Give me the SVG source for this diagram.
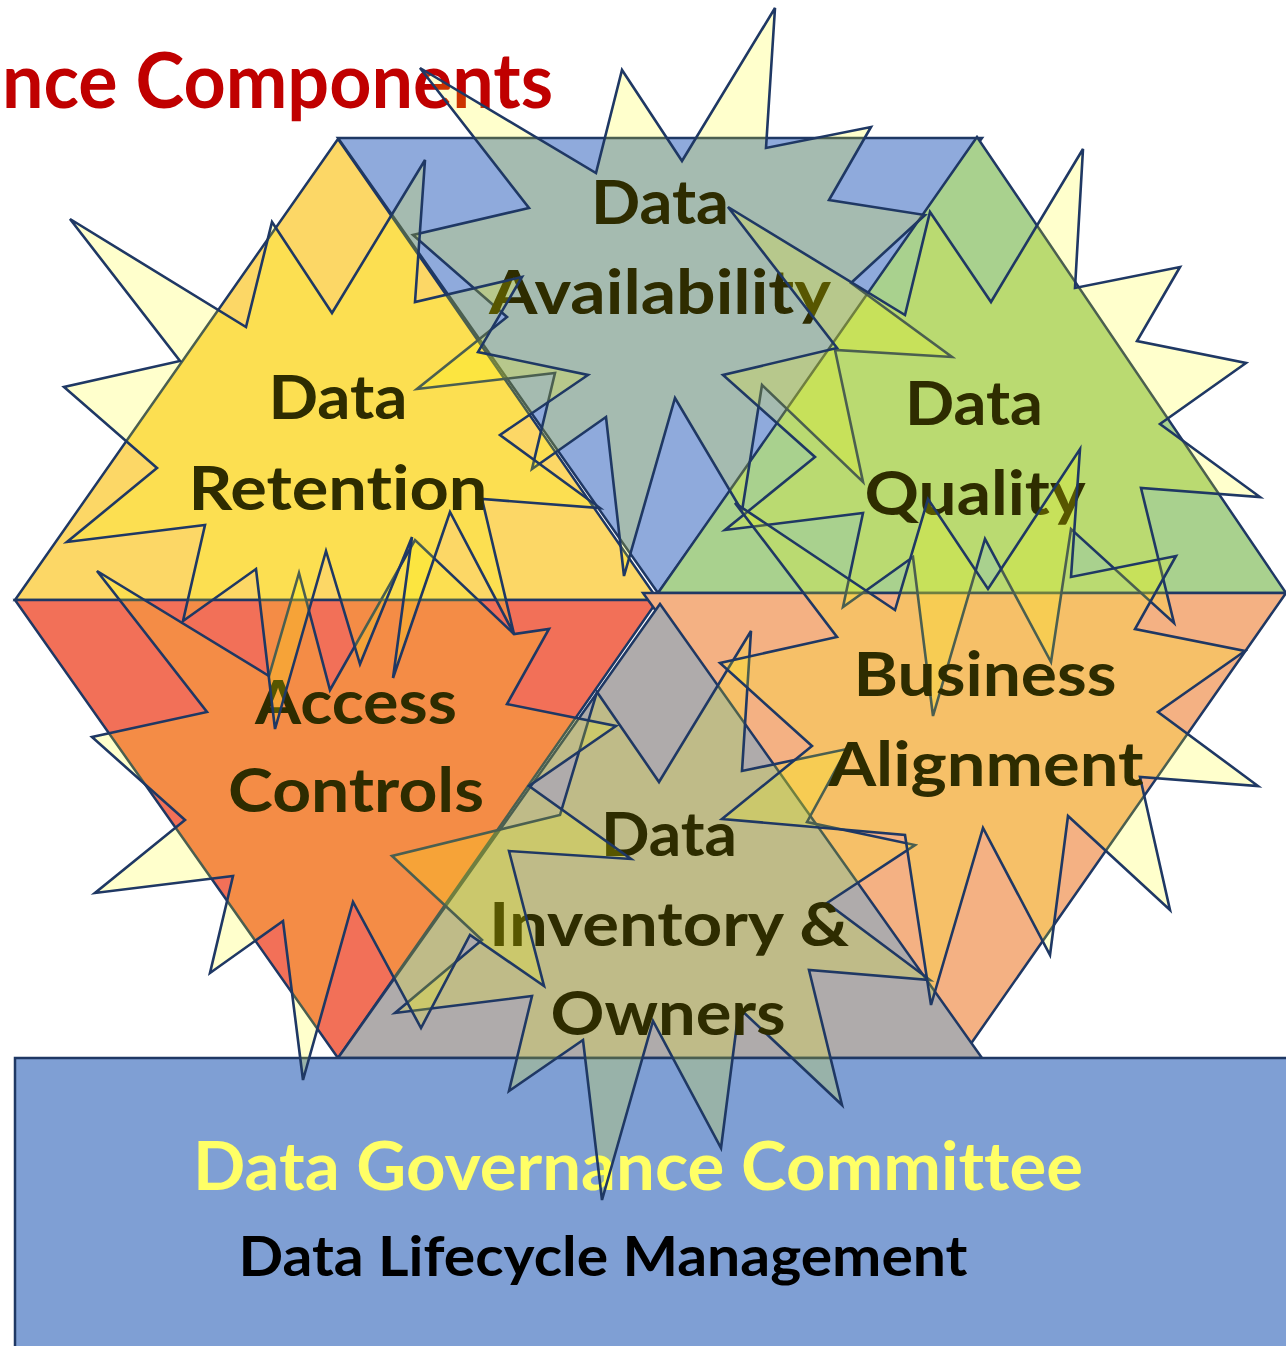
<svg xmlns="http://www.w3.org/2000/svg" width="1286" height="1346" viewBox="0 0 1286 1346">
<style>
.tri{stroke:#1F3864;stroke-width:2.5;stroke-linejoin:miter}
.star{fill:#FFFF00;fill-opacity:0.2;stroke:#1F3864;stroke-width:2.6;stroke-linejoin:miter}
.lbl{font-family:Lato,"Open Sans","Liberation Sans",sans-serif;font-weight:bold;font-size:62px;fill:#2E2C00;text-anchor:middle;font-variant-ligatures:none}
.base{font-family:Lato,"Open Sans","Liberation Sans",sans-serif;font-weight:bold;text-anchor:middle;font-variant-ligatures:none}
</style>
<rect width="1286" height="1346" fill="#FFFFFF"/>
<text x="2" y="108" textLength="551" lengthAdjust="spacingAndGlyphs" style="font-family:Lato,'Open Sans',sans-serif;font-weight:bold;font-size:76px;fill:#C00000;font-variant-ligatures:none">nce Components</text>
<g id="hexagon">
<polygon id="tri-tl" class="tri" fill="#FCD766" points="15,600 338,139 658,600"/>
<polygon id="tri-top" class="tri" fill="#8FAADC" points="338,138 982,138 658,593"/>
<polygon id="tri-tr" class="tri" fill="#A9D18E" points="977,137 1286,593 658,593"/>
<polygon id="tri-bl" class="tri" fill="#F27058" points="15,600 658,600 338,1058"/>
<polygon id="tri-br" class="tri" fill="#F4B183" points="643,593 1286,593 970,1045"/>
<polygon id="tri-bot" class="tri" fill="#AFABAB" points="660,604 982,1058 338,1058"/>
</g>
<g id="committee">
<rect x="15" y="1058" width="1290" height="300" fill="#7F9FD4" stroke="#1F3864" stroke-width="2.5"/>
<text class="base" x="638" y="1190" textLength="890" lengthAdjust="spacingAndGlyphs" font-size="66" fill="#FFFF66">Data Governance Committee</text>
<text class="base" x="603" y="1276" textLength="729" lengthAdjust="spacingAndGlyphs" font-size="56" fill="#000000">Data Lifecycle Management</text>
</g>
<g id="node-inventory">
<polygon class="star" points="751,631 742,771 847,749 807,822 915,845 827,903 930,980 809,970 842,1105 739,1008 721,1148 653,1021 602,1200 583,1040 509,1091 532,996 395,1013 482,940 392,856 560,815 597,692 659,782"/>
<text class="lbl" x="669" y="856" textLength="136" lengthAdjust="spacingAndGlyphs">Data</text>
<text class="lbl" x="669" y="946" textLength="360" lengthAdjust="spacingAndGlyphs">Inventory &amp;</text>
<text class="lbl" x="668" y="1035" textLength="235" lengthAdjust="spacingAndGlyphs">Owners</text>
</g>
<g id="node-access">
<polygon class="star" points="97,571 269,676 299,573 330,690 415,540 514,634 549,629 507,704 616,726 529,786 631,859 509,851 544,986 470,935 421,1028 353,902 303,1080 283,921 210,973 233,876 95,893 185,820 92,737 207,712"/>
<text class="lbl" x="356" y="724" textLength="202" lengthAdjust="spacingAndGlyphs">Access</text>
<text class="lbl" x="356" y="812" textLength="256" lengthAdjust="spacingAndGlyphs">Controls</text>
</g>
<g id="node-availability">
<polygon class="star" points="420,68 596,173 622,70 682,161 775,8 766,148 871,127 829,200 925,215 851,283 952,357 835,350 863,482 762,385 742,511 675,398 624,576 606,417 532,469 555,373 417,389 507,317 413,235 529,208"/>
<text class="lbl" x="660" y="224" textLength="138" lengthAdjust="spacingAndGlyphs">Data</text>
<text class="lbl" x="660" y="314" textLength="342" lengthAdjust="spacingAndGlyphs">Availability</text>
</g>
<g id="node-retention">
<polygon class="star" points="70,219 246,327 272,222 332,313 425,160 415,302 522,277 478,352 588,375 500,435 600,508 482,499 514,634 450,512 393,678 412,537 360,664 326,551 275,729 256,569 183,621 205,525 67,542 157,468 64,387 180,361"/>
<text class="lbl" x="338" y="419" textLength="139" lengthAdjust="spacingAndGlyphs">Data</text>
<text class="lbl" x="338" y="510" textLength="299" lengthAdjust="spacingAndGlyphs">Retention</text>
</g>
<g id="node-quality">
<polygon class="star" points="728,207 905,315 930,212 991,302 1083,149 1075,288 1180,267 1137,341 1246,363 1160,424 1260,497 1141,488 1174,623 1071,529 1051,662 985,539 933,716 913,557 843,607 863,513 725,530 815,457 723,375 837,348"/>
<text class="lbl" x="974" y="425" textLength="138" lengthAdjust="spacingAndGlyphs">Data</text>
<text class="lbl" x="975" y="515" textLength="221" lengthAdjust="spacingAndGlyphs">Quality</text>
</g>
<g id="node-business">
<polygon class="star" points="735,503 837,637 720,663 812,746 722,819 905,835 931,1005 983,828 1050,955 1068,816 1170,910 1140,777 1258,786 1158,712 1245,651 1135,629 1176,556 1071,577 1080,449 988,589 928,499 895,610"/>
<text class="lbl" x="985" y="696" textLength="263" lengthAdjust="spacingAndGlyphs">Business</text>
<text class="lbl" x="986" y="786" textLength="315" lengthAdjust="spacingAndGlyphs">Alignment</text>
</g>
<g id="connectors"/>
</svg>
